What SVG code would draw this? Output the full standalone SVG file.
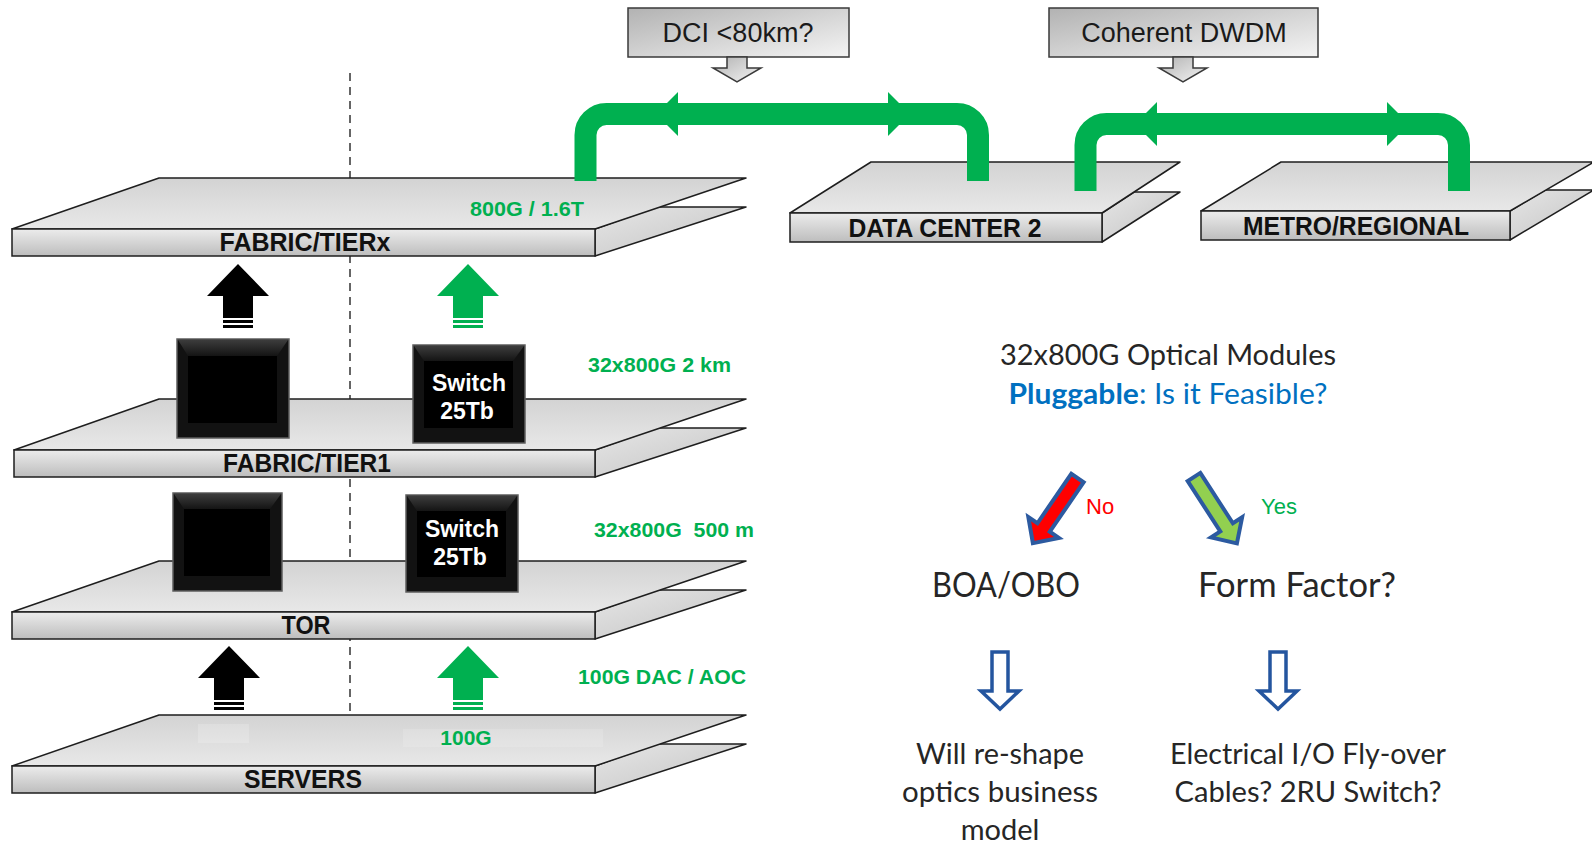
<svg xmlns="http://www.w3.org/2000/svg" width="1592" height="844" viewBox="0 0 1592 844">
  <defs>
    <linearGradient id="plateGrad" x1="0" y1="0" x2="0" y2="1">
      <stop offset="0" stop-color="#d3d3d3"/>
      <stop offset="1" stop-color="#e8e8e8"/>
    </linearGradient>
    <linearGradient id="frontGrad" x1="0" y1="0" x2="0" y2="1">
      <stop offset="0" stop-color="#ececec"/>
      <stop offset="1" stop-color="#bdbdbd"/>
    </linearGradient>
    <linearGradient id="sideGrad" x1="0" y1="0" x2="1" y2="1">
      <stop offset="0" stop-color="#e6e6e6"/>
      <stop offset="1" stop-color="#c2c2c2"/>
    </linearGradient>
    <linearGradient id="calloutGrad" x1="0" y1="0" x2="1" y2="1">
      <stop offset="0" stop-color="#b2b2b2"/>
      <stop offset="1" stop-color="#f4f4f4"/>
    </linearGradient>
    <linearGradient id="bevelGrad" x1="0" y1="0" x2="0" y2="1">
      <stop offset="0" stop-color="#3c3c3c"/>
      <stop offset="1" stop-color="#141414"/>
    </linearGradient>
    <!-- upward block arrow with two stripes under the shaft; tip at (0,0) -->
    <g id="upArrow">
      <polygon points="0,0 31,32 15,32 15,54 -15,54 -15,32 -31,32"/>
      <rect x="-15" y="56" width="30" height="3"/>
      <rect x="-15" y="61" width="30" height="3"/>
    </g>
    <!-- hollow downward arrow; top centre at (0,0) -->
    <polygon id="hollowDown" points="-8,0 8,0 8,39 19,39 0,57 -19,39 -8,39"/>
    <!-- diagonal decision arrow along +x, tail at (0,0) -->
    <polygon id="decisionArrow" points="0,-7.5 60,-7.5 60,-18.5 79,0 60,18.5 60,7.5 0,7.5"/>
  </defs>
  <style>
    .plate { fill: url(#plateGrad); stroke: #1e1e1e; stroke-width: 1.5; stroke-linejoin: round; }
    .front { fill: url(#frontGrad); stroke: #1e1e1e; stroke-width: 1.5; }
    .side { fill: url(#sideGrad); stroke: #1e1e1e; stroke-width: 1.5; stroke-linejoin: round; }
    .layerLabel { font-family: "Liberation Sans", Arial, sans-serif; font-weight: bold; font-size: 26px; fill: #111; text-anchor: middle; }
    .rate { font-family: "Liberation Sans", Arial, sans-serif; font-weight: bold; font-size: 21px; fill: #00b050; }
    .boxOuter { fill: #121212; stroke: #5e5e5e; stroke-width: 1.5; }
    .boxInner { fill: #000; }
    .boxText { font-family: "Liberation Sans", Arial, sans-serif; font-weight: bold; font-size: 23px; fill: #fff; text-anchor: middle; }
    .bridge { fill: none; stroke: #00b050; stroke-width: 22; }
    .bridgeHead { fill: #00b050; }
    .callout { fill: url(#calloutGrad); stroke: #3a3a3a; stroke-width: 1.5; }
    .calloutText { font-family: "Liberation Sans", Arial, sans-serif; font-size: 27px; fill: #1a1a1a; text-anchor: middle; }
    .body { font-family: Lato, "Open Sans", sans-serif; fill: #262626; text-anchor: middle; }
    .hollow { fill: #fff; stroke: #24559f; stroke-width: 3.5; stroke-linejoin: miter; }
    .decision { stroke: #2c5aa0; stroke-width: 4; stroke-linejoin: miter; }
    .answer { font-family: "Liberation Sans", Arial, sans-serif; font-size: 22px; }
  </style>

  <rect width="1592" height="844" fill="#fff"/>

  <!-- dashed divider running through the layer stack -->
  <line x1="350" y1="73" x2="350" y2="716" stroke="#333" stroke-width="1.5" stroke-dasharray="8,6"/>

  <!-- ===== left layer stack ===== -->
  <g id="layer-servers">
    <polygon class="side" points="595,766 656,744 746,744 595,793"/>
    <polygon class="plate" points="159,715 746,715 595,766 12,766"/>
    <rect x="198" y="724" width="51" height="19" fill="#fff" opacity="0.18"/>
    <rect x="403" y="729" width="200" height="18" fill="#fff" opacity="0.15"/>
    <rect x="12" y="766" width="583" height="27" class="front"/>
    <text class="layerLabel" x="303" y="788" textLength="118" lengthAdjust="spacingAndGlyphs">SERVERS</text>
    <text class="rate" x="466" y="745" text-anchor="middle">100G</text>
  </g>

  <g id="layer-tor">
    <polygon class="side" points="595,612 656,590 746,590 595,639"/>
    <polygon class="plate" points="159,561 746,561 595,612 12,612"/>
    <rect x="12" y="612" width="583" height="27" class="front"/>
    <text class="layerLabel" x="306" y="634" textLength="49" lengthAdjust="spacingAndGlyphs">TOR</text>
  </g>

  <g id="layer-tier1">
    <polygon class="side" points="595,450 656,428 746,428 595,477"/>
    <polygon class="plate" points="159,399 746,399 595,450 14,450"/>
    <rect x="14" y="450" width="581" height="27" class="front"/>
    <text class="layerLabel" x="307" y="472" textLength="168" lengthAdjust="spacingAndGlyphs">FABRIC/TIER1</text>
  </g>

  <g id="layer-tierx">
    <polygon class="side" points="595,229 656,207 746,207 595,256"/>
    <polygon class="plate" points="159,178 746,178 595,229 12,229"/>
    <rect x="12" y="229" width="583" height="27" class="front"/>
    <text class="layerLabel" x="305" y="251" textLength="171" lengthAdjust="spacingAndGlyphs">FABRIC/TIERx</text>
    <text class="rate" x="470" y="216" textLength="114" lengthAdjust="spacingAndGlyphs">800G / 1.6T</text>
  </g>

  <!-- ===== chassis boxes ===== -->
  <g id="box-tier1-left">
    <rect class="boxOuter" x="177" y="339" width="112" height="99"/>
    <polygon points="178,340 288,340 277,356 188,356" fill="url(#bevelGrad)"/>
    <rect class="boxInner" x="188" y="356" width="89" height="67"/>
  </g>
  <g id="box-tier1-switch">
    <rect class="boxOuter" x="413" y="345" width="112" height="98"/>
    <polygon points="414,346 524,346 513,361 424,361" fill="url(#bevelGrad)"/>
    <rect class="boxInner" x="424" y="361" width="89" height="67"/>
    <text class="boxText" x="469" y="391">Switch</text>
    <text class="boxText" x="467" y="419">25Tb</text>
  </g>
  <g id="box-tor-left">
    <rect class="boxOuter" x="173" y="493" width="109" height="98"/>
    <polygon points="174,494 281,494 270,509 184,509" fill="url(#bevelGrad)"/>
    <rect class="boxInner" x="184" y="509" width="86" height="67"/>
  </g>
  <g id="box-tor-switch">
    <rect class="boxOuter" x="406" y="495" width="112" height="97"/>
    <polygon points="407,496 517,496 506,511 417,511" fill="url(#bevelGrad)"/>
    <rect class="boxInner" x="417" y="511" width="89" height="66"/>
    <text class="boxText" x="462" y="537">Switch</text>
    <text class="boxText" x="460" y="565">25Tb</text>
  </g>

  <!-- ===== rate labels beside the stack ===== -->
  <g id="rate-labels">
    <text class="rate" x="588" y="372" textLength="143" lengthAdjust="spacingAndGlyphs">32x800G 2 km</text>
    <text class="rate" x="594" y="537" textLength="160" lengthAdjust="spacingAndGlyphs" xml:space="preserve">32x800G  500 m</text>
    <text class="rate" x="578" y="684" textLength="168" lengthAdjust="spacingAndGlyphs">100G DAC / AOC</text>
  </g>

  <!-- ===== right-hand sites ===== -->
  <g id="site-dc2">
    <polygon class="side" points="1102,213 1134,192 1180,192 1102,242"/>
    <polygon class="plate" points="871,162 1180,162 1102,213 790,213"/>
    <rect x="790" y="213" width="312" height="29" class="front"/>
    <text class="layerLabel" x="945" y="237" textLength="193" lengthAdjust="spacingAndGlyphs">DATA CENTER 2</text>
  </g>
  <g id="site-metro">
    <polygon class="side" points="1510,211 1545,190 1594,190 1510,240"/>
    <polygon class="plate" points="1281,162 1594,162 1510,211 1201,211"/>
    <rect x="1201" y="211" width="309" height="29" class="front"/>
    <text class="layerLabel" x="1356" y="235" textLength="226" lengthAdjust="spacingAndGlyphs">METRO/REGIONAL</text>
  </g>

  <!-- ===== connectors ===== -->
  <g id="connectors">
    <!-- layer-to-layer uplinks -->
    <use href="#upArrow" x="238" y="264" fill="#000"/>
    <use href="#upArrow" x="468" y="264" fill="#00b050"/>
    <use href="#upArrow" x="229" y="646" fill="#000"/>
    <use href="#upArrow" x="468" y="646" fill="#00b050"/>

    <!-- DCI bridge: fabric to data center 2 -->
    <path class="bridge" d="M585.5,181 V135 A21,21 0 0 1 606.5,114 H957 A21,21 0 0 1 978,135 V181"/>
    <polygon class="bridgeHead" points="656,114 678,92 678,136"/>
    <polygon class="bridgeHead" points="910,114 888,92 888,136"/>

    <!-- coherent bridge: data center 2 to metro -->
    <path class="bridge" d="M1085.5,191 V145 A21,21 0 0 1 1106.5,124 H1438 A21,21 0 0 1 1459,145 V191"/>
    <polygon class="bridgeHead" points="1135,124 1157,102 1157,146"/>
    <polygon class="bridgeHead" points="1409,124 1387,102 1387,146"/>

    <!-- decision arrows -->
    <use href="#decisionArrow" class="decision" fill="#ff0000" transform="translate(1077.5,478) rotate(124.4)"/>
    <use href="#decisionArrow" class="decision" fill="#92d050" transform="translate(1194,477) rotate(57.1)"/>

    <!-- outcome arrows -->
    <use href="#hollowDown" class="hollow" x="1000" y="652"/>
    <use href="#hollowDown" class="hollow" x="1278" y="652"/>
  </g>

  <!-- ===== callouts ===== -->
  <g id="callout-dci">
    <rect class="callout" x="628" y="8" width="221" height="49"/>
    <text class="calloutText" x="738" y="42">DCI &lt;80km?</text>
    <polygon class="callout" points="727,57 747,57 747,68 761,68 737,82 713,68 727,68"/>
  </g>
  <g id="callout-dwdm">
    <rect class="callout" x="1049" y="8" width="269" height="49"/>
    <text class="calloutText" x="1184" y="42">Coherent DWDM</text>
    <polygon class="callout" points="1173,57 1193,57 1193,68 1207,68 1183,82 1159,68 1173,68"/>
  </g>

  <!-- ===== feasibility question and outcomes ===== -->
  <g id="question">
    <text class="body" x="1168" y="365" font-size="28" textLength="336" lengthAdjust="spacingAndGlyphs">32x800G Optical Modules</text>
    <text class="body" x="1168" y="404" font-size="28" fill="#0070c0" textLength="319" lengthAdjust="spacingAndGlyphs"><tspan font-weight="bold" fill="#0070c0">Pluggable</tspan><tspan fill="#0070c0">: Is it Feasible?</tspan></text>
  </g>
  <g id="answers">
    <text class="answer" x="1086" y="514" fill="#ff0000">No</text>
    <text class="answer" x="1261" y="514" fill="#00b050">Yes</text>
  </g>
  <g id="outcome-boa">
    <text class="body" x="1006" y="597" font-size="34" textLength="148" lengthAdjust="spacingAndGlyphs">BOA/OBO</text>
    <text class="body" x="1000" y="764" font-size="29" textLength="168" lengthAdjust="spacingAndGlyphs">Will re-shape</text>
    <text class="body" x="1000" y="802" font-size="29" textLength="196" lengthAdjust="spacingAndGlyphs">optics business</text>
    <text class="body" x="1000" y="840" font-size="29">model</text>
  </g>
  <g id="outcome-form-factor">
    <text class="body" x="1297" y="597" font-size="34" textLength="198" lengthAdjust="spacingAndGlyphs">Form Factor?</text>
    <text class="body" x="1308" y="764" font-size="29" textLength="276" lengthAdjust="spacingAndGlyphs">Electrical I/O Fly-over</text>
    <text class="body" x="1308" y="802" font-size="29" textLength="267" lengthAdjust="spacingAndGlyphs">Cables? 2RU Switch?</text>
  </g>
</svg>
